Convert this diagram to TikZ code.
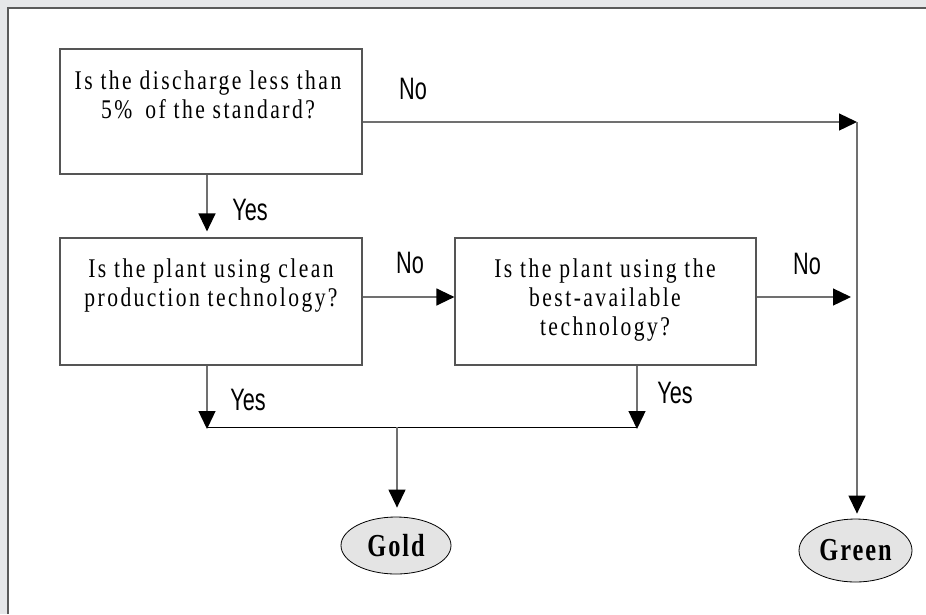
\documentclass[tikz,border=0pt]{standalone}
\usepackage{fontspec}
\setmainfont{Liberation Serif}
\newfontfamily\boxfont[FakeStretch=0.8,LetterSpace=9]{Liberation Serif}
\newfontfamily\endfont[FakeStretch=0.76,LetterSpace=6]{Liberation Serif}
\newfontfamily\lblfont[FakeStretch=0.7]{Liberation Sans}
\usetikzlibrary{arrows.meta,shapes.geometric}
\definecolor{bggray}{HTML}{E6E7E9}
\definecolor{framegray}{HTML}{5A5A5A}
\definecolor{boxline}{HTML}{555555}
\definecolor{connline}{HTML}{707070}
\definecolor{endfill}{HTML}{E4E4E4}
\tikzset{
  qbox/.style={draw=boxline,line width=1.2pt,rectangle,inner sep=0pt},
  qtext/.style={align=center,font=\boxfont\fontsize{27}{29}\selectfont,inner sep=0pt},
  endnode/.style={draw=black,line width=0.8pt,ellipse,fill=endfill,inner sep=0pt,font=\endfont\bfseries\fontsize{32}{34}\selectfont},
  lbl/.style={font=\lblfont\fontsize{31}{33}\selectfont,inner sep=0pt},
  tip/.style={-{Triangle[length=18pt,width=17pt,color=black,fill=black]}},
  conn/.style={draw=connline,line width=1.3pt},
  hline/.style={draw=black,line width=0.9pt}
}
\begin{document}
\begin{tikzpicture}[x=1pt,y=-1pt]
\useasboundingbox (0,0) rectangle (926,614);
\fill[bggray] (0,0) rectangle (926,614);
\fill[white] (8,8) rectangle (926,614);
\draw[framegray,line width=2pt] (8,614) -- (8,8) -- (926,8);

% boxes
\node[qbox,minimum width=302pt,minimum height=125pt] (box1) at (211,111.5) {};
\node[qbox,minimum width=302pt,minimum height=127pt] (box2) at (211,301.5) {};
\node[qbox,minimum width=301pt,minimum height=127pt] (box3) at (605.5,301.5) {};

\node[qtext] (t1) at (208,95) {Is the discharge less than\\5\%\hspace{13pt}of the standard?};
\node[qtext] (t2) at (211,286) {Is the plant using clean\\production technology?};
\node[qtext] (t3) at (605,300) {Is the plant using the\\best-available\\technology?};

% end nodes
\node[endnode,minimum width=110pt,minimum height=57pt] (gold) at (396,545.5) {Gold};
\node[endnode,minimum width=113pt,minimum height=63pt] (green) at (855.5,550.5) {Green};

% junction coordinates
\coordinate (jr) at (857,122);
\coordinate (jr2) at (851,297);
\coordinate (jl) at (207,427);
\coordinate (jm) at (637,427);
\coordinate (jg) at (397,427);

% connectors
\draw[conn,tip,shorten >=6pt] ([xshift=-4pt]box1.south) -- ([xshift=-4pt]box2.north);
\draw[conn,tip] (box1.east |- jr) -- (jr);
\draw[conn,tip,shorten >=5pt] (jr) -- (jr |- green.north);
\draw[conn,tip] ([yshift=4.5pt]box2.east) -- ([yshift=4.5pt]box3.west);
\draw[conn,tip] (box3.east |- jr2) -- (jr2);
\draw[conn,tip,shorten >=-2pt] (jl |- box2.south) -- (jl);
\draw[conn,tip,shorten >=-2pt] (jm |- box3.south) -- (jm);
\draw[hline] (jl) -- (jm);
\draw[conn,tip,shorten >=9pt] (jg) -- (jg |- gold.north);

% labels
\node[lbl] (no1) at (413,89) {No};
\node[lbl] (yes1) at (250,210) {Yes};
\node[lbl] (no2) at (410,263) {No};
\node[lbl] (no3) at (807,264) {No};
\node[lbl] (yes2) at (248,400) {Yes};
\node[lbl] (yes3) at (675,393) {Yes};
\end{tikzpicture}
\end{document}
